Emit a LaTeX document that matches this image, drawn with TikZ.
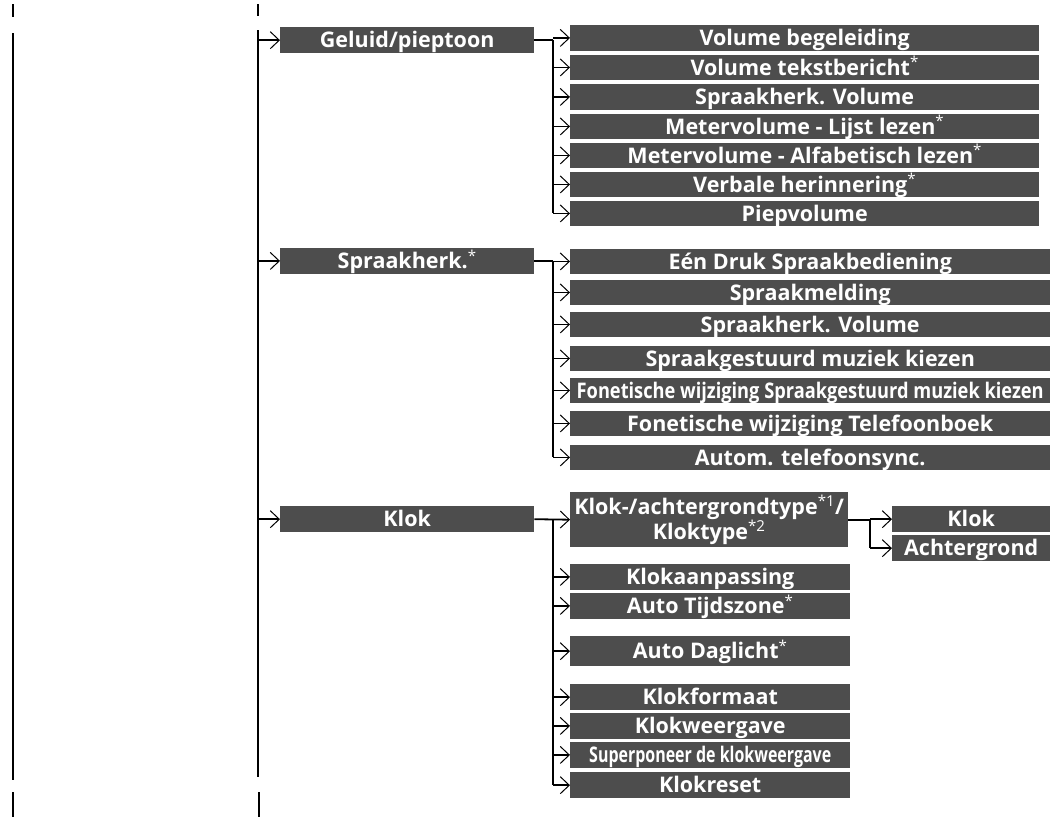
\documentclass[tikz,border=0pt]{standalone}
\usepackage{fontspec}
\usepackage{graphicx}
\setmainfont{Open Sans}
\usetikzlibrary{arrows.meta}
\definecolor{boxgray}{RGB}{77,77,77}
\newcommand{\ster}[1][]{\textsuperscript{\mdseries *#1}}
\newcommand{\smal}[2]{\resizebox{#1}{\height}{#2}}
\tikzset{
  menubox/.style={fill=boxgray, text=white, inner sep=0pt, anchor=north west,
    font=\bfseries\fontsize{21.5}{25}\selectfont,
    minimum height=25.5pt, text height=15.5pt, text depth=0pt},
  link/.style={line width=1.8pt},
  arr/.style={link, -{Straight Barb[length=9pt,width=17pt,line width=1pt]}},
}
\begin{document}
\begin{tikzpicture}[x=1pt,y=-1pt]
  \useasboundingbox (0,0) rectangle (1057,819);
  % page edge marks and trunk
  \draw[link] (13,4) -- (13,17);
  \draw[link] (13,792) -- (13,817);
  \draw[link] (258,4) -- (258,16);
  \draw[link] (259,792) -- (259,817);
  \draw[link] (13,33) -- (13,780);
  \coordinate (trunktop) at (258,30);
  \coordinate (trunkbot) at (258,777);
  \draw[link] (trunktop) -- (trunkbot);

  % level 1
  \node[menubox, minimum width=254pt, minimum height=26pt] (geluid) at (280,27) {Geluid/pieptoon};
  \node[menubox, minimum width=254pt] (spraak) at (280,248) {Spraakherk.\ster};
  \node[menubox, minimum width=254pt, minimum height=26pt] (klok) at (280,506) {Klok};
  \foreach \n in {geluid,spraak,klok}{
    \draw[arr] (trunktop |- \n.west) -- (\n.west);
  }

  % Geluid/pieptoon
  \coordinate (gbus) at (553,0);
  \draw[link] (geluid.east) -- (gbus |- geluid.east);
  \foreach \ytop/\lbl [count=\i] in {25/Volume begeleiding,
      54.5/Volume tekstbericht\ster, 84/Spraakherk. Volume,
      113.5/Metervolume - Lijst lezen\ster,
      142.5/Metervolume - Alfabetisch lezen\ster,
      171.5/Verbale herinnering\ster, 200.5/Piepvolume}{
    \node[menubox, minimum width=469pt] (geluid\i) at (570,\ytop) {\lbl};
    \draw[arr] (gbus |- geluid\i.west) -- (geluid\i.west);
  }
  \draw[link] (gbus |- geluid.east) -- (gbus |- geluid7.west);

  % Spraakherk.
  \coordinate (sbus) at (553,0);
  \draw[link] (spraak.east) -- (sbus |- spraak.east);
  \foreach \ytop/\lbl [count=\i] in {248.5/Eén Druk Spraakbediening,
      279.5/Spraakmelding, 311.5/Spraakherk. Volume,
      345.5/Spraakgestuurd muziek kiezen,
      377.5/\smal{467pt}{Fonetische wijziging Spraakgestuurd muziek kiezen},
      410.5/Fonetische wijziging Telefoonboek,
      444.5/Autom. telefoonsync.}{
    \node[menubox, minimum width=480pt] (spraak\i) at (570,\ytop) {\lbl};
    \draw[arr] (sbus |- spraak\i.west) -- (spraak\i.west);
  }
  \draw[link] (sbus |- spraak.east) -- (sbus |- spraak7.west);

  % Klok
  \coordinate (kbus) at (553,0);
  \node[menubox, minimum width=278pt, minimum height=55pt, align=center,
    text height=, text depth=] (klok1) at (570,492)
    {Klok-/achtergrondtype\ster[1]/\\Kloktype\ster[2]};
  \draw[arr] (klok.east) -- (klok1.west);
  \foreach \ytop/\hgt/\lbl [count=\i from 2] in {564/25.5/Klokaanpassing,
      593/25.5/Auto Tijdszone\ster, 636/30/Auto Daglicht\ster,
      684/26/Klokformaat, 713/25.5/Klokweergave,
      742/25.5/\smal{242pt}{Superponeer de klokweergave},
      772/26/Klokreset}{
    \node[menubox, minimum width=280pt, minimum height=\hgt pt] (klok\i) at (570,\ytop) {\lbl};
    \draw[arr] (kbus |- klok\i.west) -- (klok\i.west);
  }
  \draw[link] (kbus |- klok.east) -- (kbus |- klok8.west);

  % Klok-/achtergrondtype
  \coordinate (tbus) at (870,0);
  \node[menubox, minimum width=158pt, minimum height=26pt] (tklok) at (892,506) {Klok};
  \node[menubox, minimum width=158pt, minimum height=26pt] (tachter) at (892,535) {Achtergrond};
  \draw[link] (klok1.east) -- (tbus |- klok1.east);
  \foreach \n in {tklok,tachter}{
    \draw[arr] (tbus |- \n.west) -- (\n.west);
  }
  \draw[link] (tbus |- klok1.east) -- (tbus |- tachter.west);
\end{tikzpicture}
\end{document}
